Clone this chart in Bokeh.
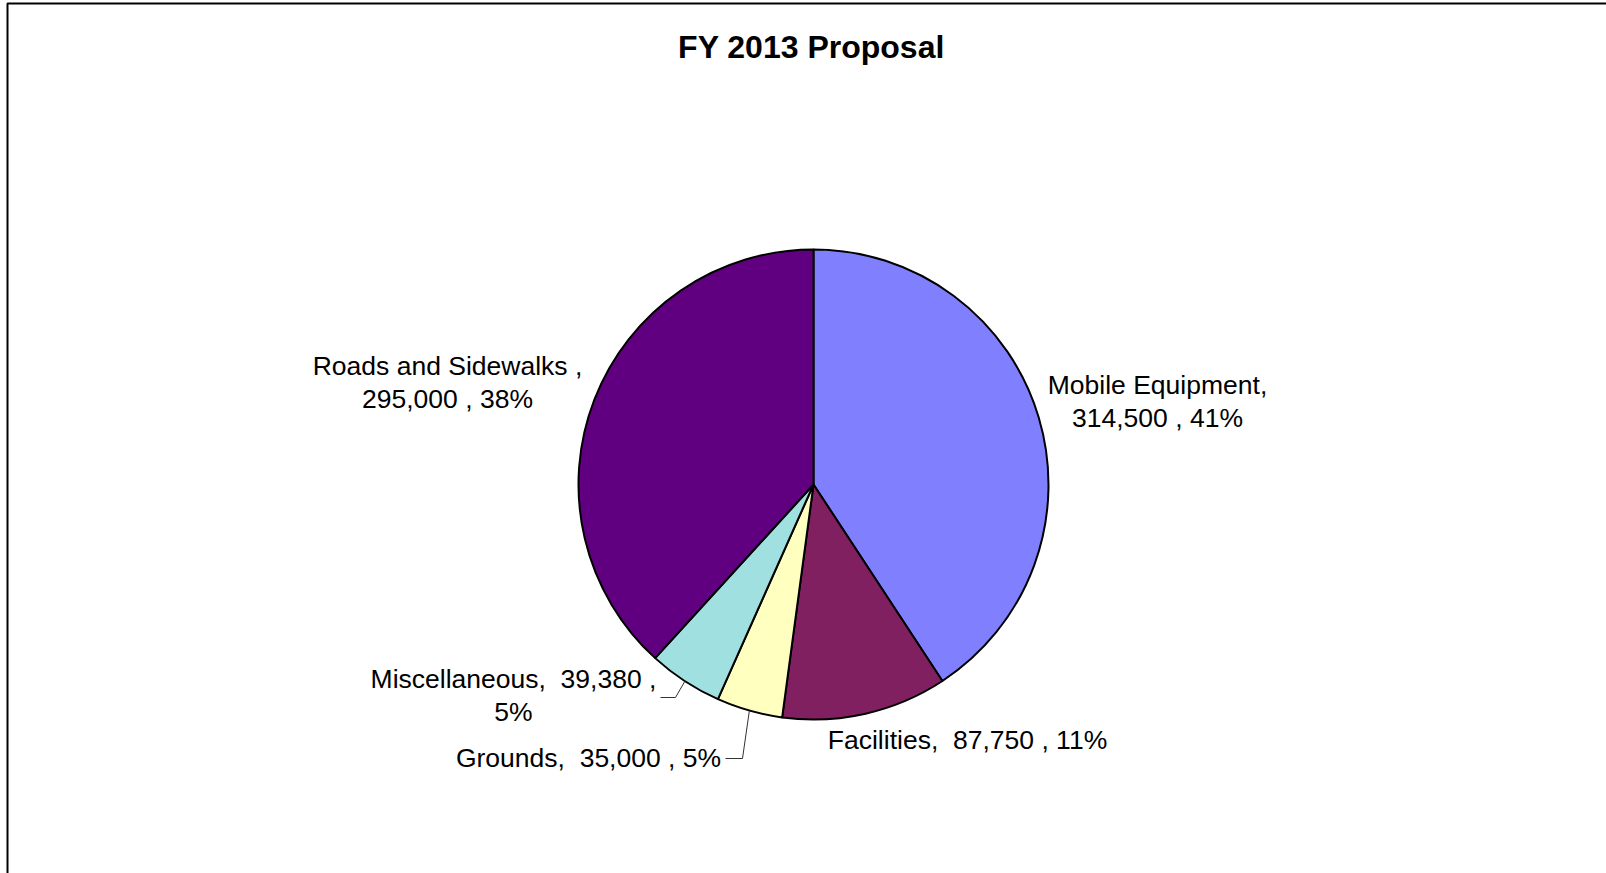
import math
from bokeh.plotting import figure
from bokeh.models import Range1d, ColumnDataSource
from bokeh.core.properties import value
from bokeh.embed import file_html
from bokeh.resources import INLINE

# ---- data ----
title = "FY 2013 Proposal"
categories = ["Mobile Equipment", "Facilities", "Grounds", "Miscellaneous", "Roads and Sidewalks"]
amounts = [314500, 87750, 35000, 39380, 295000]
colors = ["#8080FF", "#802060", "#FFFFC0", "#A0E0E0", "#600080"]
NB = "\u00a0"
label_lines = [
    ["Mobile Equipment,", "314,500 , 41%"],
    ["Facilities, " + NB + "87,750 , 11%"],
    ["Grounds, " + NB + "35,000 , 5%"],
    ["Miscellaneous, " + NB + "39,380 ,", "5%"],
    ["Roads and Sidewalks ,", "295,000 , 38%"],
]

# ---- layout (pixel coordinates, y measured from top) ----
W, H = 1606, 873
CX, CY, R = 813, 484, 235
label_pos = [(1157, 384), (967, 739), (588, 757), (513, 678), (447, 365)]
line_gap = 33
FONT = "Liberation Sans"

def fy(py):
    return H - py

p = figure(width=W, height=H, x_range=Range1d(0, W), y_range=Range1d(0, H),
           output_backend="svg", toolbar_location=None, min_border=0)
p.axis.visible = False
p.grid.visible = False
p.outline_line_color = None
p.background_fill_color = "white"
p.border_fill_color = "white"

# chart-area border (top and left edges visible)
p.line(x=[7, 7, W + 5], y=[fy(H + 5), fy(3), fy(3)], line_color="black", line_width=2)

# pie wedges, clockwise from 12 o'clock
total = float(sum(amounts))
fracs = [a / total for a in amounts]
starts, ends, mids = [], [], []
cum = 0.0
for f in fracs:
    starts.append(math.pi / 2 - cum * 2 * math.pi)
    mids.append(cum + f / 2)
    cum += f
    ends.append(math.pi / 2 - cum * 2 * math.pi)

src = ColumnDataSource(dict(x=[CX] * len(amounts), y=[fy(CY)] * len(amounts),
                            start=starts, end=ends, color=colors, cat=categories))
p.wedge(x="x", y="y", radius=R, start_angle="start", end_angle="end", direction="clock",
        fill_color="color", line_color="black", line_width=2, source=src)

# labels
tx, ty, tt = [], [], []
for lines, (lx, ly) in zip(label_lines, label_pos):
    for i, s in enumerate(lines):
        tx.append(lx)
        ty.append(fy(ly + i * line_gap))
        tt.append(s)
p.text(x=tx, y=ty, text=tt, text_font=value(FONT), text_font_size="26.5px",
       text_align="center", text_baseline="middle", text_color="black")

# leader lines for the two small slices (anchored at slice mid-angle on the rim)
def rim(m):
    a = m * 2 * math.pi
    return CX + R * math.sin(a), CY - R * math.cos(a)

mx, my = rim(mids[3])
gx, gy = rim(mids[2])
p.multi_line(xs=[[660, 675, mx], [725, 742, gx]],
             ys=[[fy(697), fy(697), fy(my)], [fy(758), fy(758), fy(gy)]],
             line_color="#333333", line_width=1)

# title
p.text(x=[811], y=[fy(46)], text=[title], text_font=value(FONT), text_font_size="32px",
       text_font_style="bold", text_align="center", text_baseline="middle", text_color="black")

open("out.html", "w").write(file_html(p, INLINE))
